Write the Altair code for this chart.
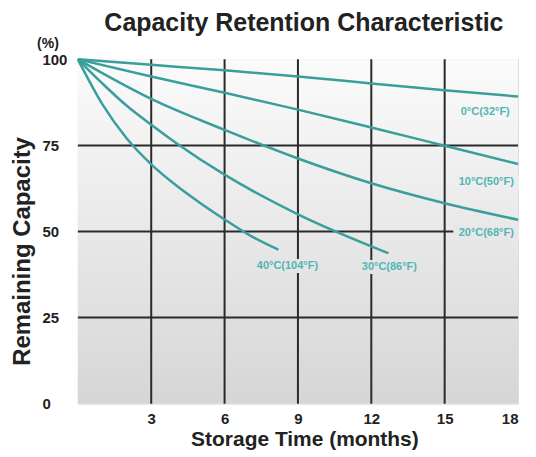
import altair as alt
import pandas as pd

# ---- data ----
months_0c = [0, 3, 6, 9, 12, 15, 18]
cap_0c = [100, 98.4, 96.8, 95.0, 93.0, 91.0, 89.2]

months_10c = [0, 3, 6, 9, 12, 15, 18]
cap_10c = [100, 95.0, 90.3, 85.4, 80.2, 74.9, 69.6]

months_20c = [0, 1, 3, 6, 9, 12, 15, 18]
cap_20c = [100, 96.0, 88.5, 79.5, 71.2, 64.0, 58.2, 53.4]

months_30c = [0, 1, 2, 3, 4, 6, 9, 12, 12.7]
cap_30c = [100, 93.0, 86.5, 81.0, 75.8, 66.5, 55.0, 45.7, 43.7]

months_40c = [0, 1, 2, 3, 4, 5, 6, 7, 8.2]
cap_40c = [100, 87.0, 77.0, 69.5, 63.5, 58.3, 53.5, 49.0, 44.7]

label_text = ["0°C(32°F)", "10°C(50°F)", "20°C(68°F)", "30°C(86°F)", "40°C(104°F)"]
label_x = [16.66, 16.7, 16.7, 12.74, 8.57]
label_y = [84.6, 64.3, 49.6, 39.7, 40.0]

x_ticks = [3, 6, 9, 12, 15, 18]
y_ticks = [0, 25, 50, 75, 100]
x_grid = [3, 6, 9, 12, 15]
y_grid = [25, 50, 75]

# ---- build tables ----
rows = []
for name, ms, cs in [("0°C", months_0c, cap_0c), ("10°C", months_10c, cap_10c),
                     ("20°C", months_20c, cap_20c), ("30°C", months_30c, cap_30c),
                     ("40°C", months_40c, cap_40c)]:
    for m, c in zip(ms, cs):
        rows.append({"series": name, "month": m, "cap": c})
curves = pd.DataFrame(rows)
labels = pd.DataFrame({"text": label_text, "month": label_x, "cap": label_y})
xg = pd.DataFrame({"month": x_grid})
yg = pd.DataFrame({"cap": y_grid})

FONT = "Liberation Sans"
W, H = 441, 345
BG_TOP, BG_BOTTOM = "#fbfbfb", "#d6d6d6"

xscale = alt.Scale(domain=[0, 18], nice=False, zero=False)
yscale = alt.Scale(domain=[0, 100], nice=False)

xax = alt.Axis(values=x_ticks, title="Storage Time (months)", grid=False, domain=False,
               ticks=False, tickSize=0, labelPadding=8, labelFontSize=15,
               labelFontWeight="bold", labelFont=FONT, labelColor="#222",
               titleFont=FONT, titleFontSize=21, titleFontWeight="bold", titleColor="#222",
               titleX=227, titleY=36, titleBaseline="middle", titleAlign="center")
yax = alt.Axis(values=y_ticks, title="Remaining Capacity", grid=False, domain=False,
               ticks=False, tickSize=0, labelPadding=36, labelAlign="left",
               labelBaseline="middle", labelFontSize=15, labelFontWeight="bold",
               labelFont=FONT, labelColor="#222",
               titleFont=FONT, titleFontSize=24, titleFontWeight="bold", titleColor="#222",
               titleX=-55, titleY=192, titleAngle=270, titleBaseline="middle",
               titleAlign="center")

grad = alt.Gradient(gradient="linear",
                    stops=[alt.GradientStop(color=BG_TOP, offset=0),
                           alt.GradientStop(color=BG_BOTTOM, offset=1)],
                    x1=0, x2=0, y1=0, y2=1)

bg = alt.Chart(pd.DataFrame({"a": [0]})).mark_rect(fill=grad).encode(
    x=alt.datum(0, scale=xscale, axis=xax, type="quantitative"),
    x2=alt.datum(18),
    y=alt.datum(0, scale=yscale, axis=yax, type="quantitative"),
    y2=alt.datum(100),
)

vrules = alt.Chart(xg).mark_rule(color="#2a2a2a", strokeWidth=2).encode(
    x=alt.X("month:Q", scale=xscale))
hrules = alt.Chart(yg).mark_rule(color="#2a2a2a", strokeWidth=2).encode(
    y=alt.Y("cap:Q", scale=yscale))

lines = alt.Chart(curves).mark_line(color="#3a9e9c", strokeWidth=2.5,
                                    interpolate="monotone").encode(
    x=alt.X("month:Q", scale=xscale),
    y=alt.Y("cap:Q", scale=yscale),
    detail="series:N",
)

# label backgrounds take the local colour of the gradient, so they only hide grid lines
boxes = alt.Chart(labels).mark_rect(width=66, height=14).encode(
    x=alt.X("month:Q", scale=xscale),
    y=alt.Y("cap:Q", scale=yscale),
    fill=alt.Fill("cap:Q", scale=alt.Scale(domain=[0, 100], range=[BG_BOTTOM, BG_TOP]),
                  legend=None),
)

texts = alt.Chart(labels).mark_text(font=FONT, fontSize=11, fontWeight="bold",
                                    color="#52b5b5").encode(
    x=alt.X("month:Q", scale=xscale),
    y=alt.Y("cap:Q", scale=yscale),
    text="text:N",
)

pct = alt.Chart(pd.DataFrame({"t": ["(%)"]})).mark_text(
    font=FONT, fontSize=14, fontWeight="bold", color="#222").encode(
    x=alt.value(-30), y=alt.value(-15), text="t:N")

chart = alt.layer(bg, vrules, hrules, boxes, lines, texts, pct).properties(
    width=W, height=H,
    title=alt.TitleParams("Capacity Retention Characteristic", font=FONT, fontSize=25,
                          fontWeight="bold", color="#222", dx=6, dy=28, offset=4,
                          baseline="bottom", anchor="middle"),
    autosize=alt.AutoSizeParams(type="none"),
    padding={"left": 70, "top": 51, "right": 10, "bottom": 46},
).configure_view(stroke="#2a2a2a", strokeWidth=2).configure(background="white")

chart.save("out.html", embed_options={"renderer": "svg", "actions": False})
